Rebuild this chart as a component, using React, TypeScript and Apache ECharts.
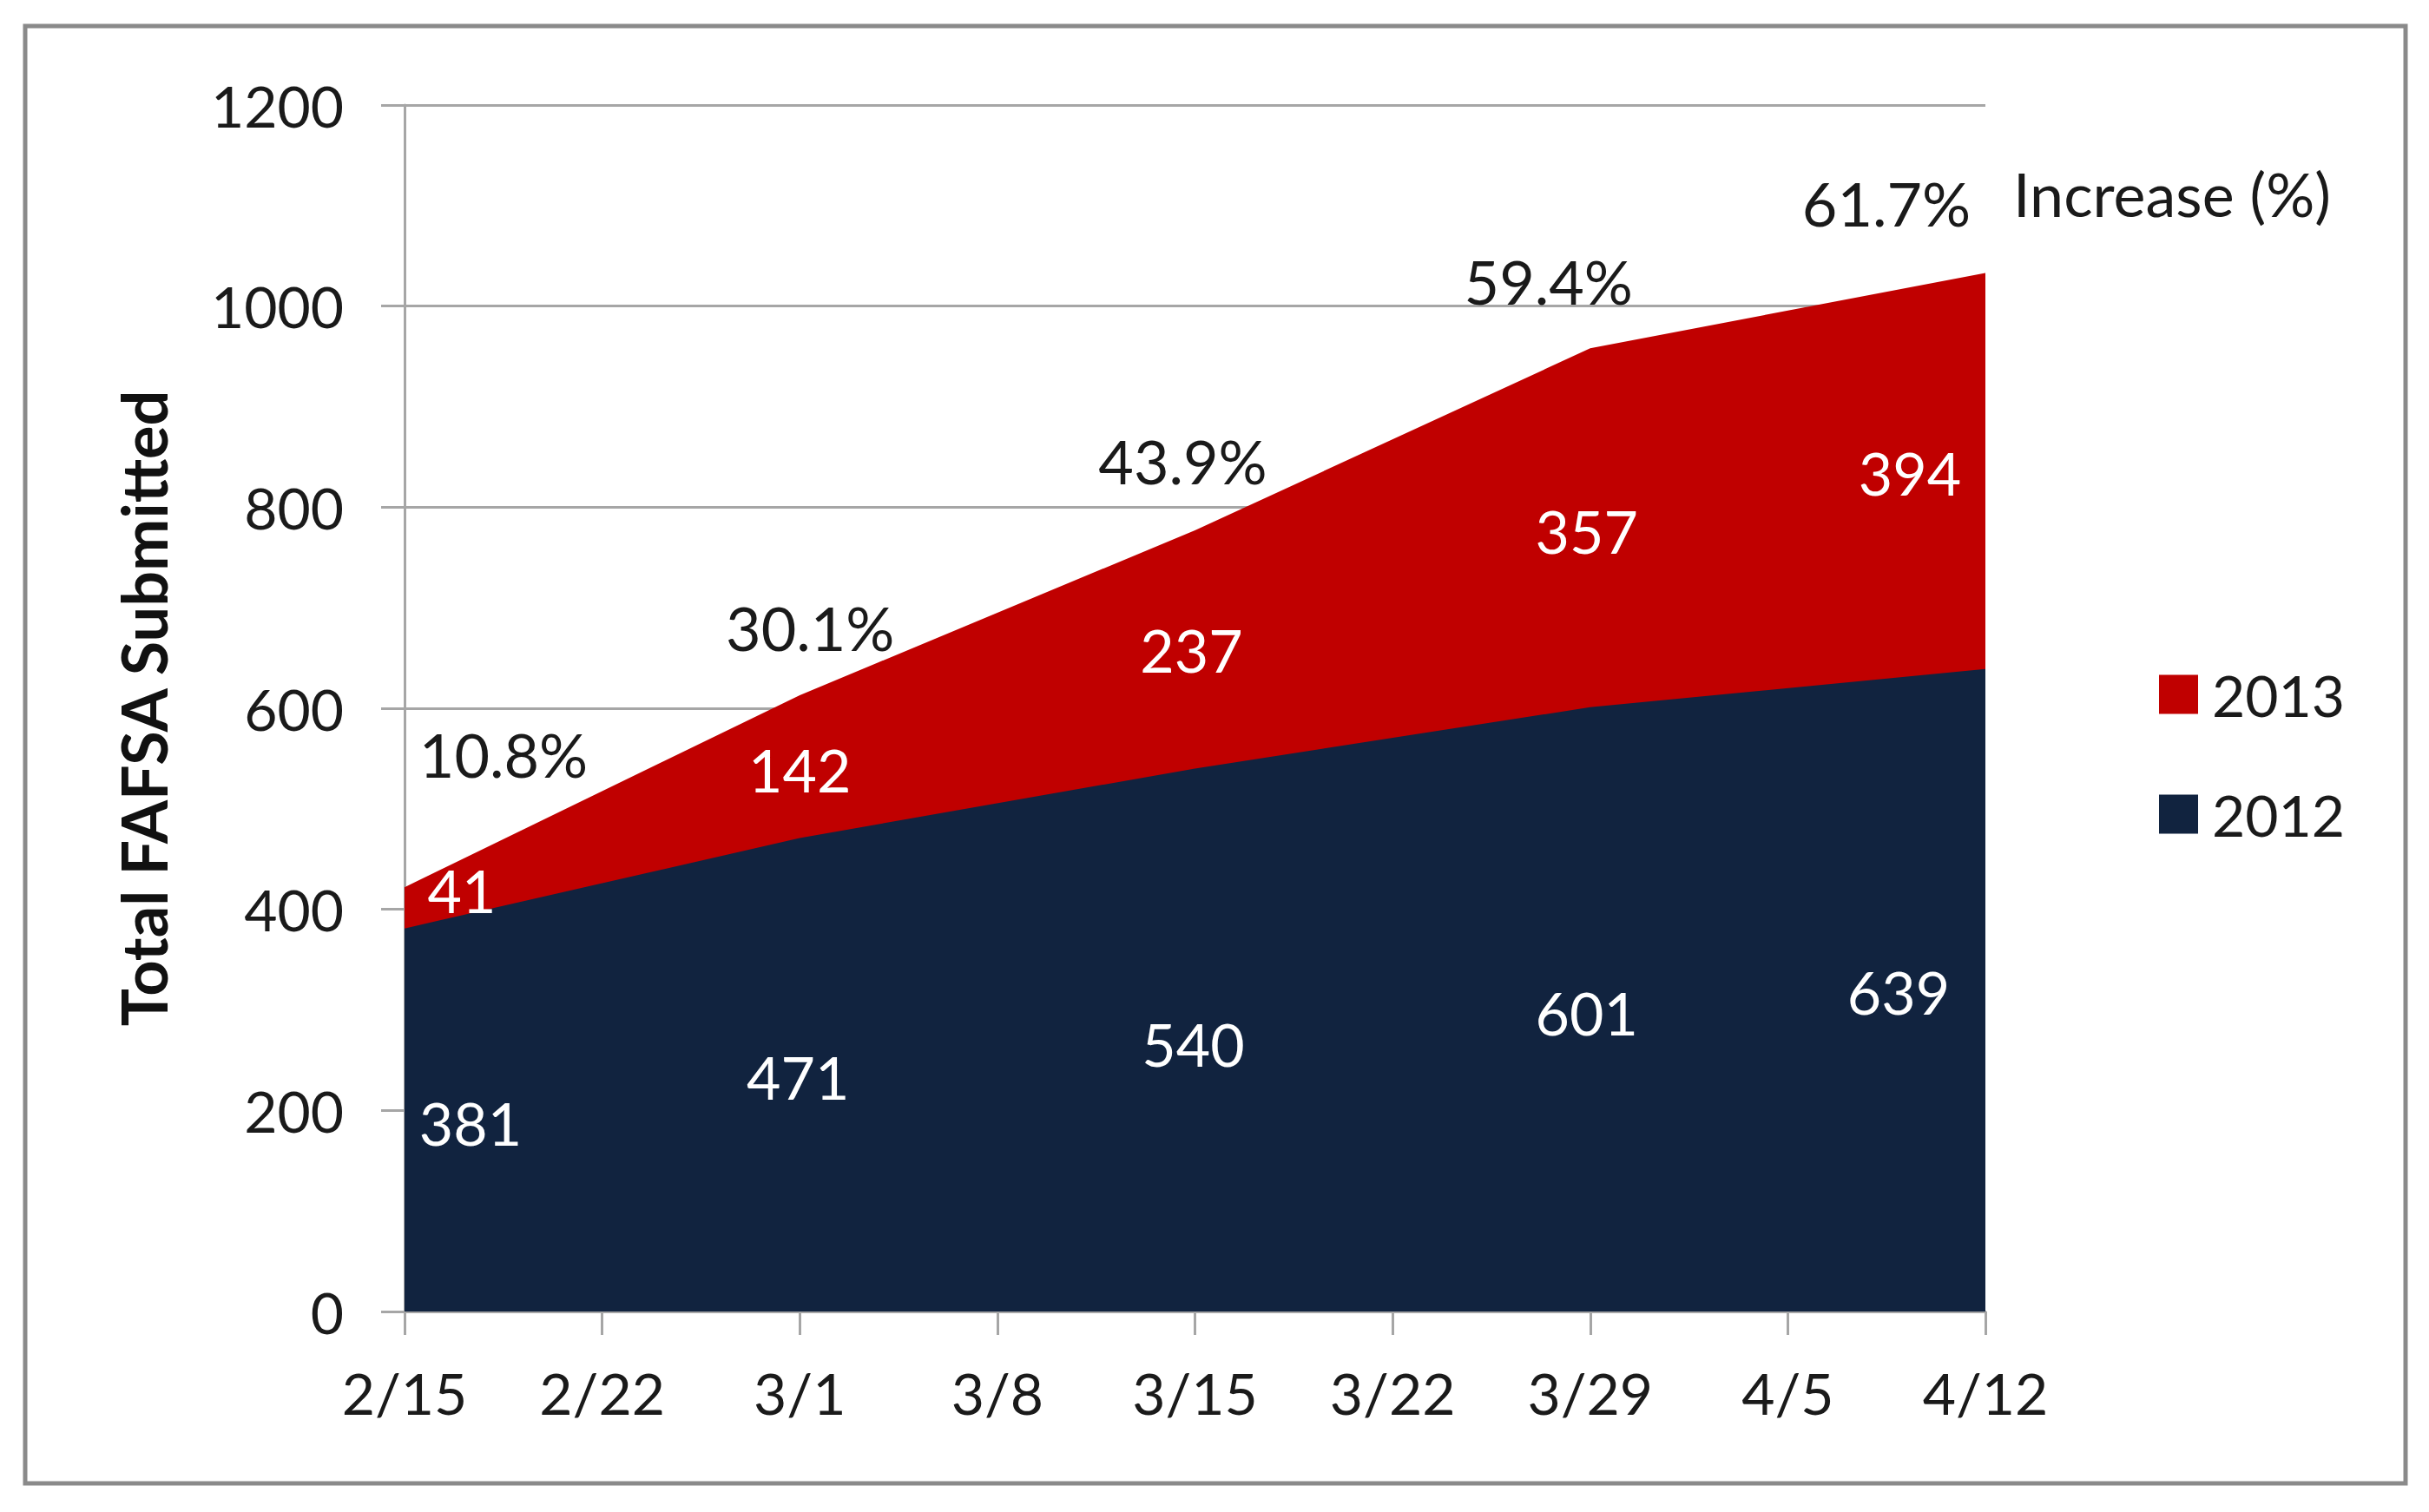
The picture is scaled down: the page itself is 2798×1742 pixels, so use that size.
import React, { useEffect, useRef } from "react";
import * as echarts from "echarts";

const tickLabels = ["2/15", "2/22", "3/1", "3/8", "3/15", "3/22", "3/29", "4/5", "4/12"];
const pointDates = ["2/15", "3/1", "3/15", "3/29", "4/12"];
const values2012 = [381, 471, 540, 601, 639];
const values2013 = [41, 142, 237, 357, 394];
const increasePct = ["10.8%", "30.1%", "43.9%", "59.4%", "61.7%"];

// label nudges (pixels), styling only
const nudge2012 = [[76, 3], [-2, 2], [-2, 4], [-4, 4], [-100, 2]];
const nudge2013 = [[66, -20], [0, 3], [-4, 0], [-4, 3], [-87, 2]];
const nudgePct = [[114, -153], [12, -78], [-14, -80], [-48, -77], [-114, -80]];

const NAVY = "#11233f";
const RED = "#c00000";
const FONT = "Lato, 'Open Sans', sans-serif";
const FS = 66;

export default function App() {
  const ref = useRef<HTMLDivElement>(null);
  useEffect(() => {
    document.body.style.margin = "0";
    document.body.style.overflow = "hidden";
    const chart = echarts.init(ref.current!, null, { renderer: "svg" });
    const xs = pointDates.map((d) => tickLabels.indexOf(d));
    const totals = values2012.map((v, i) => v + values2013[i]);

    const labelSeries = (
      name: string,
      pts: number[][],
      texts: string[],
      nudges: number[][],
      color: string,
      size: number
    ) => ({
      name,
      type: "custom",
      coordinateSystem: "cartesian2d",
      silent: true,
      clip: false,
      z: 10,
      data: pts,
      encode: { x: 0, y: 1 },
      renderItem: (params: any, api: any) => {
        const i = params.dataIndex;
        const p = api.coord([api.value(0), api.value(1)]);
        return {
          type: "text",
          x: p[0] + nudges[i][0],
          y: p[1] + nudges[i][1],
          style: {
            text: texts[i],
            fill: color,
            fontSize: size,
            fontFamily: FONT,
            align: "center",
            verticalAlign: "middle",
          },
        };
      },
    });

    chart.setOption({
      animation: false,
      backgroundColor: "#ffffff",
      grid: { left: 466, right: 511, top: 121, bottom: 231, containLabel: false },
      legend: {
        data: ["2013", "2012"],
        orient: "vertical",
        left: 2482,
        top: 762,
        icon: "rect",
        itemWidth: 45,
        itemHeight: 45,
        itemGap: 72,
        selectedMode: false,
        textStyle: { fontSize: FS, fontFamily: FONT, color: "#1a1a1a", lineHeight: 45, padding: [0, 0, 0, 11] },
      },
      xAxis: {
        type: "value",
        min: 0,
        max: tickLabels.length - 1,
        interval: 1,
        axisLine: { show: true, lineStyle: { color: "#a6a6a6", width: 3 } },
        axisTick: { show: true, length: 27, lineStyle: { color: "#a6a6a6", width: 3 } },
        splitLine: { show: false },
        axisLabel: {
          formatter: (v: number) => tickLabels[Math.round(v)] ?? "",
          fontSize: FS,
          fontFamily: FONT,
          color: "#1a1a1a",
          margin: 60,
        },
      },
      yAxis: {
        type: "value",
        min: 0,
        max: 1200,
        interval: 200,
        name: "Total FAFSA Submitted",
        nameLocation: "middle",
        nameGap: 265,
        nameRotate: 90,
        nameTextStyle: { fontSize: 72, fontWeight: "bold", fontFamily: FONT, color: "#111" },
        axisLine: { show: true, lineStyle: { color: "#a6a6a6", width: 3 } },
        axisTick: { show: true, length: 27, lineStyle: { color: "#a6a6a6", width: 3 } },
        splitLine: { show: true, lineStyle: { color: "#a6a6a6", width: 3 } },
        axisLabel: {
          formatter: (v: number) => String(v),
          fontSize: FS,
          fontFamily: FONT,
          color: "#1a1a1a",
          margin: 70,
        },
      },
      graphic: [
        {
          type: "rect",
          shape: { x: 29, y: 30, width: 2742, height: 1679 },
          style: { fill: "none", stroke: "#8a8a8a", lineWidth: 5 },
          z: -1,
        },
        {
          type: "text",
          x: 2319,
          y: 223,
          style: {
            text: "Increase (%)",
            fill: "#1a1a1a",
            fontSize: 70,
            fontFamily: FONT,
            verticalAlign: "middle",
          },
        },
      ],
      series: [
        {
          name: "2013",
          type: "line",
          symbol: "none",
          showSymbol: false,
          lineStyle: { width: 0 },
          itemStyle: { color: RED },
          areaStyle: { color: RED, opacity: 1 },
          data: xs.map((x, i) => [x, totals[i]]),
          z: 1,
        },
        {
          name: "2012",
          type: "line",
          symbol: "none",
          showSymbol: false,
          lineStyle: { width: 0 },
          itemStyle: { color: NAVY },
          areaStyle: { color: NAVY, opacity: 1 },
          data: xs.map((x, i) => [x, values2012[i]]),
          z: 2,
        },
        labelSeries("lbl2012", xs.map((x, i) => [x, values2012[i] / 2]), values2012.map(String), nudge2012, "#ffffff", 68),
        labelSeries(
          "lbl2013",
          xs.map((x, i) => [x, values2012[i] + values2013[i] / 2]),
          values2013.map(String),
          nudge2013,
          "#ffffff",
          68
        ),
        labelSeries("lblPct", xs.map((x, i) => [x, totals[i]]), increasePct, nudgePct, "#1a1a1a", 70),
      ],
    });
    return () => chart.dispose();
  }, []);
  return <div ref={ref} style={{ width: 2798, height: 1742 }} />;
}
